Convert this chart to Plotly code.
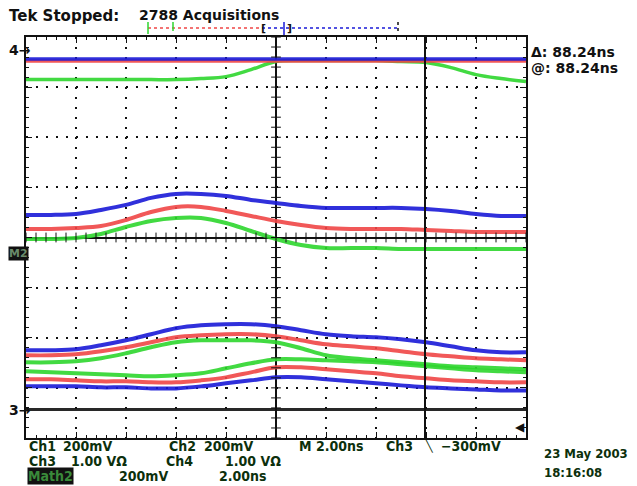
import numpy as np
import plotly.graph_objects as go

# time axis (ns), 2 ns/div, 10 divisions, trigger at centre
time_ns = [-10, -9, -8, -7, -6, -5, -4, -3, -2, -1, 0, 1, 2, 3, 4, 5, 6, 7, 8, 9, 10]

# vertical values in screen divisions (8 divisions, 0 = centre)
ch4_blue = [3.56] * 21
ch4_red = [3.52] * 21
ch4_green = [3.15, 3.15, 3.15, 3.15, 3.15, 3.15, 3.15, 3.17, 3.21, 3.35, 3.51,
             3.53, 3.53, 3.53, 3.53, 3.51, 3.49, 3.39, 3.25, 3.17, 3.11]

mid_blue = [0.45, 0.45, 0.47, 0.55, 0.65, 0.79, 0.87, 0.87, 0.83, 0.75, 0.69,
            0.63, 0.59, 0.59, 0.59, 0.59, 0.57, 0.53, 0.47, 0.43, 0.43]
mid_red = [0.17, 0.17, 0.19, 0.23, 0.35, 0.51, 0.61, 0.61, 0.53, 0.43, 0.33,
           0.25, 0.19, 0.17, 0.17, 0.17, 0.15, 0.13, 0.11, 0.11, 0.11]
mid_green = [-0.03, -0.03, -0.01, 0.07, 0.21, 0.33, 0.39, 0.39, 0.29, 0.13, -0.03,
             -0.15, -0.21, -0.21, -0.21, -0.23, -0.23, -0.23, -0.23, -0.23, -0.23]

low_blue_hi = [-2.25, -2.25, -2.23, -2.15, -2.05, -1.93, -1.81, -1.75, -1.73, -1.73, -1.77,
               -1.85, -1.93, -1.97, -1.99, -2.03, -2.09, -2.17, -2.25, -2.29, -2.29]
low_red_hi = [-2.35, -2.35, -2.33, -2.27, -2.19, -2.09, -1.99, -1.95, -1.93, -1.93, -1.97,
              -2.05, -2.13, -2.17, -2.21, -2.27, -2.33, -2.37, -2.41, -2.43, -2.45]
low_green_hi = [-2.49, -2.49, -2.47, -2.41, -2.31, -2.19, -2.09, -2.05, -2.05, -2.05, -2.09,
                -2.21, -2.35, -2.41, -2.45, -2.49, -2.53, -2.57, -2.59, -2.61, -2.63]
low_green_lo = [-2.67, -2.69, -2.71, -2.73, -2.75, -2.77, -2.75, -2.71, -2.61, -2.51, -2.43,
                -2.43, -2.45, -2.47, -2.49, -2.53, -2.57, -2.61, -2.65, -2.67, -2.69]
low_red_lo = [-2.83, -2.83, -2.85, -2.87, -2.87, -2.89, -2.89, -2.85, -2.79, -2.69, -2.59,
              -2.59, -2.63, -2.67, -2.71, -2.77, -2.81, -2.85, -2.87, -2.89, -2.89]
low_blue_lo = [-2.97, -2.97, -2.97, -2.99, -2.99, -3.01, -3.01, -2.97, -2.91, -2.85, -2.79,
               -2.79, -2.83, -2.87, -2.91, -2.95, -2.99, -3.01, -3.03, -3.05, -3.05]

ch3_black = [-3.43] * 21

cursor_ns = 5.96

BLUE = "#1a1ad8"
RED = "#f04646"
GREEN = "#2ed62e"
BLACK = "#111111"
TXT = "#0c300c"
NARROW = "Liberation Sans Narrow, DejaVu Sans Condensed, Arial Narrow, Liberation Sans"

fig = go.Figure()

traces = [
    (ch4_green, GREEN, 3.5), (ch4_red, RED, 3.5), (ch4_blue, BLUE, 3.5),
    (mid_green, GREEN, 4), (mid_red, RED, 4), (mid_blue, BLUE, 4),
    (low_green_hi, GREEN, 4), (low_green_lo, GREEN, 4),
    (low_red_hi, RED, 4), (low_red_lo, RED, 4),
    (low_blue_hi, BLUE, 4), (low_blue_lo, BLUE, 4),
    (ch3_black, BLACK, 3),
]
for ys, col, w in traces:
    fig.add_trace(go.Scatter(x=time_ns, y=ys, mode="lines",
                             line=dict(color=col, width=w, shape="spline"),
                             opacity=0.9, hoverinfo="skip", showlegend=False))

# tick marks on the centre cross
ticks = np.arange(-10, 10.001, 0.4)
fig.add_trace(go.Scatter(x=ticks, y=np.zeros_like(ticks), mode="markers",
                         marker=dict(symbol="line-ns", size=7, line=dict(color=BLACK, width=1)),
                         hoverinfo="skip", showlegend=False))
vt = np.arange(-4, 4.001, 0.2)
fig.add_trace(go.Scatter(x=np.zeros_like(vt), y=vt, mode="markers",
                         marker=dict(symbol="line-ew", size=7, line=dict(color=BLACK, width=1)),
                         hoverinfo="skip", showlegend=False))

fig.add_vline(x=cursor_ns, line=dict(color=BLACK, width=2), layer="above")

# the page adds an 8px body margin, so the figure is drawn 8px smaller
OFF = 8
W, H = 637 - OFF, 486 - OFF
x0, x1, y0, y1 = 26, 526, 37, 438


def px(x):
    return max(x - OFF, 0) / W


def py(y):
    return 1 - max(y - OFF, 0) / H


fig.update_layout(
    width=W, height=H,
    margin=dict(l=0, r=0, t=0, b=0),
    paper_bgcolor="white", plot_bgcolor="white",
    font=dict(family="DejaVu Sans", color=TXT),
    xaxis=dict(domain=[px(x0), px(x1)], range=[-10, 10], dtick=2,
               showgrid=True, gridcolor=BLACK, gridwidth=1.5, griddash="2px,8px",
               zeroline=True, zerolinecolor=BLACK, zerolinewidth=1.5,
               showline=True, linecolor=BLACK, linewidth=2, mirror="ticks",
               ticks="inside", ticklen=6, tickcolor=BLACK, showticklabels=False,
               minor=dict(dtick=0.4, ticks="inside", ticklen=3, tickcolor=BLACK)),
    yaxis=dict(domain=[py(y1), py(y0)], range=[-4, 4], dtick=1,
               showgrid=True, gridcolor=BLACK, gridwidth=1.5, griddash="2px,8px",
               zeroline=True, zerolinecolor=BLACK, zerolinewidth=1.5,
               showline=True, linecolor=BLACK, linewidth=2, mirror="ticks",
               ticks="inside", ticklen=6, tickcolor=BLACK, showticklabels=False,
               minor=dict(dtick=0.2, ticks="inside", ticklen=3, tickcolor=BLACK)),
)


def label(x, y, text, size=14, anchor="left", color=TXT, bg=None, family=NARROW):
    fig.add_annotation(x=px(x), y=py(y), xref="paper", yref="paper", text=text,
                       showarrow=False, xanchor=anchor, yanchor="middle",
                       font=dict(size=size, color=color, family=family),
                       bgcolor=bg, borderpad=0)


# header
label(3, 16, "<b>Tek Stopped:</b>", 15, color=BLACK, family="DejaVu Sans")
label(138, 15, "<b>2788 Acquisitions</b>", 14, color=BLACK, family="DejaVu Sans")

# record bar
bar = [
    dict(x0=148, x1=262, y0=28, y1=28, color=RED, dash="dot"),
    dict(x0=262, x1=398, y0=28, y1=28, color=BLUE, dash="dot"),
    dict(x0=148, x1=148, y0=22, y1=34, color=GREEN, dash="solid"),
    dict(x0=173, x1=173, y0=22, y1=34, color=GREEN, dash="dash"),
    dict(x0=398, x1=398, y0=22, y1=34, color=BLACK, dash="dot"),
    dict(x0=284, x1=284, y0=22, y1=35, color=BLUE, dash="solid"),
]
for b in bar:
    fig.add_shape(type="line", xref="paper", yref="paper",
                  x0=px(b["x0"]), x1=px(b["x1"]), y0=py(b["y0"]), y1=py(b["y1"]),
                  line=dict(color=b["color"], width=1.5, dash=b["dash"]))
label(260, 29, "<b>[</b>", 11, color=BLACK, family="DejaVu Sans")
label(286, 29, "<b>]</b>", 11, color=BLACK, family="DejaVu Sans")

# cursor readout
label(530, 52, "<b>Δ: 88.24ns</b>", 14, color=BLACK, family="DejaVu Sans")
label(530, 68, "<b>@: 88.24ns</b>", 14, color=BLACK, family="DejaVu Sans")

# channel ground markers
label(3, 50, "<b>4→</b>", 14, color=BLACK, family="DejaVu Sans")
label(3, 410, "<b>3→</b>", 14, color=BLACK, family="DejaVu Sans")
label(0, 253, "<b>M2</b>", 11, color="#6a8a6a", bg=BLACK, family="DejaVu Sans")
label(526, 427, "<b>◀</b>", 12, anchor="right", color=BLACK, family="DejaVu Sans")

# bottom readout
R1, R2, R3 = 446, 461, 476
label(28, R1, "<b>Ch1</b>", 14)
label(62, R1, "<b>200mV</b>", 14)
label(168, R1, "<b>Ch2</b>", 14)
label(203, R1, "<b>200mV</b>", 14)
label(298, R1, "<b>M 2.00ns</b>", 14)
label(385, R1, "<b>Ch3</b>", 14)
label(424, R1, "<b>╲</b>", 11, family="DejaVu Sans")
label(440, R1, "<b>−300mV</b>", 14)
label(543, 453, "<b>23 May 2003</b>", 13)

label(28, R2, "<b>Ch3</b>", 14)
label(70, R2, "<b>1.00 VΩ</b>", 14)
label(165, R2, "<b>Ch4</b>", 14)
label(224, R2, "<b>1.00 VΩ</b>", 14)
label(543, 472, "<b>18:16:08</b>", 13)

label(27, R3, "<b>Math2</b>", 14, color="#3a8a3a", bg=BLACK)
label(118, R3, "<b>200mV</b>", 14)
label(218, R3, "<b>2.00ns</b>", 14)

fig.write_html("out.html")
